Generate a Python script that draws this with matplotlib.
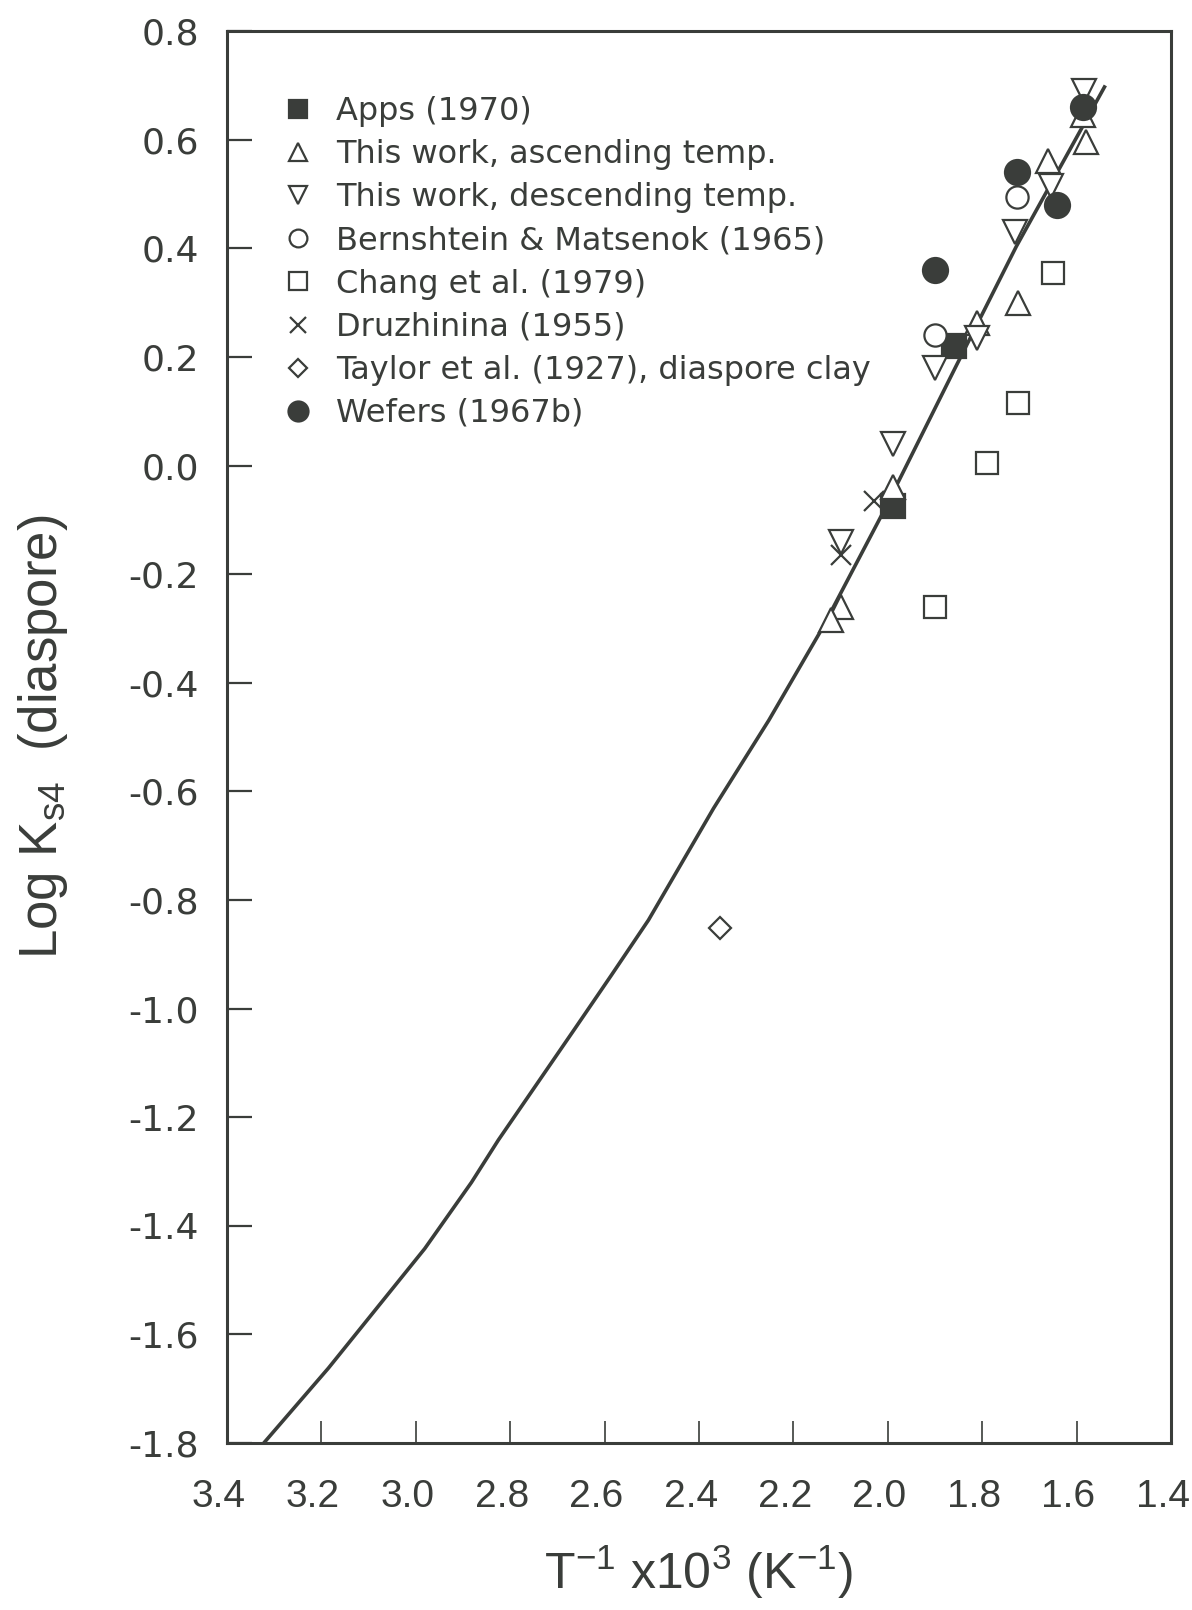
import matplotlib

matplotlib.use("Agg")
import matplotlib.pyplot as plt
from matplotlib.transforms import ScaledTranslation

INK = "#3a3d3a"

# fitted curve
curve_x = [3.322, 3.185, 2.981, 2.882, 2.825, 2.663, 2.586, 2.507, 2.369,
           2.252, 2.139, 2.011, 1.856, 1.728, 1.541]
curve_y = [-1.800, -1.662, -1.442, -1.320, -1.242, -1.037, -0.939, -0.837,
           -0.631, -0.469, -0.300, -0.088, 0.182, 0.403, 0.697]

apps_x = [1.86, 1.99]
apps_y = [0.22, -0.075]

asc_x = [1.587, 1.58, 1.66, 1.725, 1.81, 1.99, 2.10, 2.12]
asc_y = [0.645, 0.595, 0.56, 0.30, 0.262, -0.04, -0.26, -0.285]

desc_x = [1.585, 1.655, 1.73, 1.81, 1.90, 1.99, 2.10]
desc_y = [0.69, 0.515, 0.43, 0.235, 0.18, 0.04, -0.14]

bern_x = [1.727, 1.90]
bern_y = [0.495, 0.24]

chang_x = [1.65, 1.725, 1.79, 1.90]
chang_y = [0.355, 0.115, 0.005, -0.26]

druz_x = [2.03, 2.10]
druz_y = [-0.065, -0.165]

taylor_x = [2.355]
taylor_y = [-0.852]

wefers_x = [1.587, 1.727, 1.642, 1.90]
wefers_y = [0.66, 0.54, 0.48, 0.36]

x_ticks = [3.4, 3.2, 3.0, 2.8, 2.6, 2.4, 2.2, 2.0, 1.8, 1.6, 1.4]
y_ticks = [0.8, 0.6, 0.4, 0.2, 0.0, -0.2, -0.4, -0.6, -0.8, -1.0, -1.2,
           -1.4, -1.6, -1.8]


def main() -> None:
    fig = plt.figure(figsize=(11.92, 16.10), dpi=100)
    ax = fig.add_axes([0.1904, 0.1037, 0.7920, 0.8770])

    ax.plot(curve_x, curve_y, color=INK, lw=2.6, zorder=2)

    mk = dict(linestyle="none", markeredgewidth=1.6, zorder=3)
    ax.plot(apps_x, apps_y, marker="s", ms=17, color=INK, mfc=INK,
            label="Apps (1970)", **mk)
    ax.plot(asc_x, asc_y, marker="^", ms=17, color=INK, mfc="white",
            label="This work, ascending temp.", **mk)
    ax.plot(desc_x, desc_y, marker="v", ms=17, color=INK, mfc="white",
            label="This work, descending temp.", **mk)
    ax.plot(bern_x, bern_y, marker="o", ms=16, color=INK, mfc="white",
            label="Bernshtein & Matsenok (1965)", **mk)
    ax.plot(chang_x, chang_y, marker="s", ms=16, color=INK, mfc="white",
            label="Chang et al. (1979)", **mk)
    ax.plot(druz_x, druz_y, marker="x", ms=15, color=INK,
            label="Druzhinina (1955)", **mk)
    ax.plot(taylor_x, taylor_y, marker="D", ms=11, color=INK, mfc="white",
            label="Taylor et al. (1927), diaspore clay", **mk)
    ax.plot(wefers_x, wefers_y, marker="o", ms=18, color=INK, mfc=INK,
            label="Wefers (1967b)", **mk)

    ax.set_xlim(3.4, 1.4)
    ax.set_ylim(-1.8, 0.8)
    ax.set_xticks(x_ticks)
    ax.set_yticks(y_ticks)
    ax.set_xticklabels([f"{v:.1f}" for v in x_ticks],
                       family="Liberation Sans", fontsize=28, color=INK)
    ax.set_yticklabels([f"{v:.1f}" for v in y_ticks],
                       family="DejaVu Sans", fontsize=26, color=INK)
    ax.tick_params(axis="x", direction="in", length=16, width=1.2,
                   pad=26, colors=INK)
    ax.tick_params(axis="y", direction="in", length=18, width=1.6,
                   pad=20, colors=INK)
    # labels sit a little left of their ticks in the original
    shift = ScaledTranslation(-6 / 72, 0, fig.dpi_scale_trans)
    for lab in ax.get_xticklabels():
        lab.set_transform(lab.get_transform() + shift)
    for s in ax.spines.values():
        s.set_linewidth(2.2)
        s.set_color(INK)

    ax.set_xlabel("T$^{\\mathregular{-1}}$ x10$^{\\mathregular{3}}$ "
                  "(K$^{\\mathregular{-1}}$)", family="Liberation Sans",
                  fontsize=36, color=INK, labelpad=20)
    ax.set_ylabel("Log K$_{\\mathregular{s4}}$  (diaspore)",
                  family="Liberation Sans", fontsize=38, color=INK, labelpad=42)

    leg = ax.legend(loc="upper left", bbox_to_anchor=(0.058, 0.954),
                    frameon=False, borderaxespad=0, borderpad=0,
                    handlelength=1.0, handletextpad=0.7, labelspacing=0.38,
                    prop={"family": "DejaVu Sans", "size": 23}, markerscale=0.8)
    for t in leg.get_texts():
        t.set_color(INK)

    fig.savefig("out.png", dpi=100)
    plt.close(fig)


if __name__ == "__main__":
    main()
